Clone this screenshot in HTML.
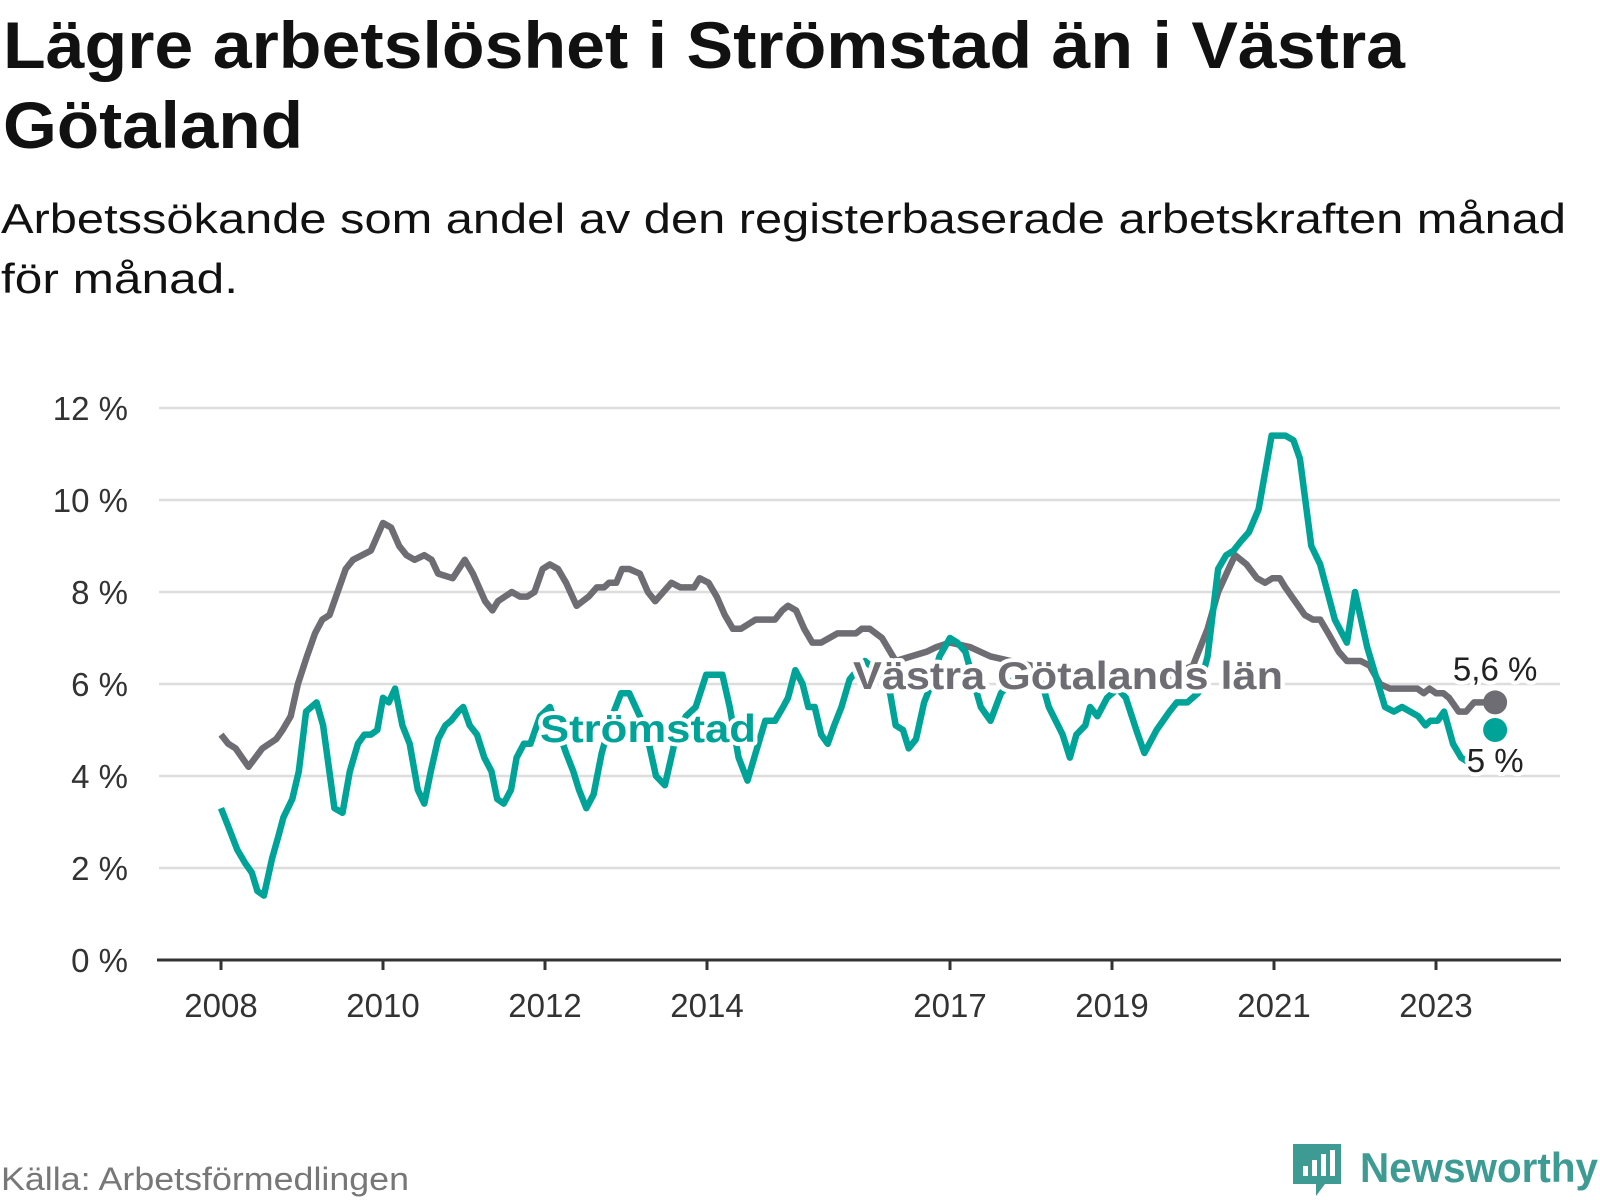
<!DOCTYPE html>
<html><head><meta charset="utf-8">
<style>
body{margin:0;background:#fff;width:1600px;height:1200px;overflow:hidden;font-family:"Liberation Sans","DejaVu Sans",sans-serif}
svg{position:absolute;left:0;top:0}
.h{paint-order:stroke;stroke:#fff;stroke-width:8px;stroke-linejoin:round}
</style></head><body>
<svg id="chart" width="1600" height="1200">
<text x="3" y="68" font-size="66" font-weight="bold" fill="#111" textLength="1402" lengthAdjust="spacingAndGlyphs">Lägre arbetslöshet i Strömstad än i Västra</text>
<text x="3" y="148" font-size="66" font-weight="bold" fill="#111" textLength="300" lengthAdjust="spacingAndGlyphs">Götaland</text>
<text x="1" y="233" font-size="42" fill="#111" textLength="1565" lengthAdjust="spacingAndGlyphs">Arbetssökande som andel av den registerbaserade arbetskraften månad</text>
<text x="1" y="293" font-size="42" fill="#111" textLength="237" lengthAdjust="spacingAndGlyphs">för månad.</text>
<g id="grid"></g><g id="lines"></g><g id="labels"></g>
<text x="1" y="1190" font-size="32" fill="#777" textLength="408" lengthAdjust="spacingAndGlyphs">Källa: Arbetsförmedlingen</text>
<g>
<path d="M1293 1144h48v40h-16l-9 12v-12h-23z" fill="#3d9b94"/>
<rect x="1303" y="1166" width="5" height="10" fill="#fff"/><rect x="1312" y="1160" width="5" height="16" fill="#fff"/><rect x="1321" y="1154" width="5" height="22" fill="#fff"/><rect x="1330" y="1150" width="5" height="26" fill="#fff"/>
<text x="1360" y="1182" font-size="42" font-weight="bold" fill="#3d9b94" textLength="238" lengthAdjust="spacingAndGlyphs">Newsworthy</text>
</g>
</svg>
<script>
const yTicks=[0,2,4,6,8,10,12];
const xTicks=[2008,2010,2012,2014,2017,2019,2021,2023];
const grayT=[0,.09,.18,.34,.51,.68,.76,.86,.95,1.06,1.16,1.25,1.34,1.44,1.54,1.63,1.85,2.0,2.1,2.2,2.29,2.39,2.51,2.6,2.68,2.86,3.01,3.11,3.26,3.35,3.42,3.59,3.69,3.78,3.87,3.97,4.06,4.16,4.26,4.39,4.54,4.64,4.73,4.79,4.88,4.95,5.04,5.17,5.27,5.36,5.46,5.56,5.67,5.84,5.91,6.02,6.12,6.22,6.32,6.42,6.6,6.84,6.93,7.0,7.1,7.2,7.3,7.41,7.51,7.61,7.84,7.91,8.01,8.16,8.33,8.52,8.71,8.83,9.0,9.25,9.5,9.75,10.0,10.25,10.5,10.75,11.0,11.25,11.5,11.75,12.0,12.18,12.31,12.44,12.52,12.66,12.79,12.89,12.98,13.07,13.14,13.22,13.38,13.48,13.57,13.67,13.8,13.9,14.07,14.18,14.31,14.43,14.77,14.85,14.92,15.0,15.09,15.16,15.28,15.37,15.47,15.73];
const grayV=[4.9,4.7,4.6,4.2,4.6,4.8,5.0,5.3,6.0,6.6,7.1,7.4,7.5,8.0,8.5,8.7,8.9,9.5,9.4,9.0,8.8,8.7,8.8,8.7,8.4,8.3,8.7,8.4,7.8,7.6,7.8,8.0,7.9,7.9,8.0,8.5,8.6,8.5,8.2,7.7,7.9,8.1,8.1,8.2,8.2,8.5,8.5,8.4,8.0,7.8,8.0,8.2,8.1,8.1,8.3,8.2,7.9,7.5,7.2,7.2,7.4,7.4,7.6,7.7,7.6,7.2,6.9,6.9,7.0,7.1,7.1,7.2,7.2,7.0,6.5,6.6,6.7,6.8,6.9,6.8,6.6,6.5,6.4,6.2,6.0,6.0,5.9,6.0,6.0,6.2,6.4,7.2,8.0,8.5,8.8,8.6,8.3,8.2,8.3,8.3,8.1,7.9,7.5,7.4,7.4,7.1,6.7,6.5,6.5,6.4,6.0,5.9,5.9,5.8,5.9,5.8,5.8,5.7,5.4,5.4,5.6,5.6];
const tealT=[0,.09,.2,.3,.38,.45,.53,.63,.71,.77,.88,.96,1.05,1.18,1.26,1.4,1.5,1.59,1.69,1.77,1.85,1.93,2.0,2.07,2.15,2.24,2.33,2.43,2.51,2.59,2.68,2.77,2.84,2.93,2.99,3.07,3.16,3.25,3.34,3.41,3.49,3.58,3.65,3.74,3.82,3.94,4.06,4.16,4.26,4.35,4.42,4.51,4.6,4.7,4.83,4.94,5.04,5.17,5.27,5.37,5.48,5.61,5.74,5.86,5.99,6.19,6.28,6.39,6.5,6.6,6.72,6.84,6.94,7.0,7.09,7.18,7.25,7.33,7.41,7.49,7.57,7.66,7.76,7.95,8.14,8.26,8.33,8.42,8.49,8.58,8.68,8.77,8.87,9.0,9.09,9.19,9.3,9.38,9.5,9.63,9.78,9.97,10.14,10.22,10.39,10.48,10.56,10.67,10.73,10.82,10.94,11.07,11.17,11.3,11.4,11.55,11.71,11.8,11.93,12.06,12.18,12.31,12.41,12.5,12.59,12.69,12.81,12.97,13.14,13.24,13.32,13.46,13.57,13.75,13.9,14.0,14.15,14.37,14.48,14.58,14.78,14.87,14.93,15.02,15.1,15.21,15.31,15.4];
const tealV=[3.3,2.9,2.4,2.1,1.9,1.5,1.4,2.2,2.7,3.1,3.5,4.1,5.4,5.6,5.1,3.3,3.2,4.1,4.7,4.9,4.9,5.0,5.7,5.6,5.9,5.1,4.7,3.7,3.4,4.1,4.8,5.1,5.2,5.4,5.5,5.1,4.9,4.4,4.1,3.5,3.4,3.7,4.4,4.7,4.7,5.3,5.5,5.0,4.5,4.1,3.7,3.3,3.6,4.5,5.3,5.8,5.8,5.3,4.8,4.0,3.8,4.8,5.3,5.5,6.2,6.2,5.5,4.4,3.9,4.5,5.2,5.2,5.5,5.7,6.3,6.0,5.5,5.5,4.9,4.7,5.1,5.5,6.1,6.5,6.2,5.8,5.1,5.0,4.6,4.8,5.6,6.0,6.6,7.0,6.9,6.7,6.0,5.5,5.2,5.8,6.1,6.3,6.0,5.5,4.9,4.4,4.9,5.1,5.5,5.3,5.7,5.9,5.7,5.0,4.5,5.0,5.4,5.6,5.6,5.8,6.6,8.5,8.8,8.9,9.1,9.3,9.8,11.4,11.4,11.3,10.9,9.0,8.6,7.4,6.9,8.0,6.8,5.5,5.4,5.5,5.3,5.1,5.2,5.2,5.4,4.7,4.4,4.3];
const lastT=15.73, grayLast=5.6, tealLast=5.0;
const NS='http://www.w3.org/2000/svg';
const X=t=>221+t*81, Y=v=>960-v*46, XY=yr=>X(yr-2008);
function mk(tag,attrs,parent,txt){const e=document.createElementNS(NS,tag);for(const k in attrs)e.setAttribute(k,attrs[k]);if(txt!=null)e.textContent=txt;document.getElementById(parent).appendChild(e);return e;}
yTicks.forEach(v=>{
 if(v>0){const g=mk('line',{x1:159,x2:1560,y1:Y(v),y2:Y(v),stroke:'#ddd','stroke-width':2.5},'grid');
 
 }
 const t=mk('text',{x:128,y:Y(v)+12,'font-size':33,fill:'#333','text-anchor':'end'},'grid',v+' %');
 
 
});
const ax=mk('line',{x1:157,x2:1561,y1:960,y2:960,stroke:'#333','stroke-width':3},'grid');


xTicks.forEach(yr=>{
 const tk=mk('line',{x1:XY(yr),x2:XY(yr),y1:960,y2:970,stroke:'#333','stroke-width':3},'grid');
 
 
 const t=mk('text',{x:XY(yr),y:1017,'font-size':33,fill:'#333','text-anchor':'middle'},'grid',yr);
 
 
});
function pts(T,V){return T.map((t,i)=>X(t).toFixed(1)+','+Y(V[i]).toFixed(1)).join(' ');}
const gl=mk('polyline',{points:pts(grayT,grayV),fill:'none',stroke:'#6e6d73','stroke-width':6.5,'stroke-linejoin':'round'},'lines');


const tl=mk('polyline',{points:pts(tealT,tealV),fill:'none',stroke:'#00a398','stroke-width':6.5,'stroke-linejoin':'round'},'lines');


const gd=mk('circle',{cx:X(lastT),cy:Y(grayLast),r:12,fill:'#6e6d73'},'lines');


const td=mk('circle',{cx:X(lastT),cy:Y(tealLast),r:12,fill:'#00a398'},'lines');


const l1=mk('text',{x:648,y:742,'font-size':39,'font-weight':'bold',fill:'#00a398','text-anchor':'middle',class:'h',textLength:216,lengthAdjust:'spacingAndGlyphs'},'labels','Strömstad');


const l2=mk('text',{x:1068,y:689,'font-size':39,'font-weight':'bold',fill:'#6e6d73','text-anchor':'middle',class:'h',textLength:430,lengthAdjust:'spacingAndGlyphs'},'labels','Västra Götalands län');


const v1=mk('text',{x:X(lastT),y:Y(grayLast)-22,'font-size':33,fill:'#222','text-anchor':'middle',class:'h'},'labels',String(grayLast).replace('.',',')+' %');


const v2=mk('text',{x:X(lastT),y:Y(tealLast)+42,'font-size':33,fill:'#222','text-anchor':'middle',class:'h'},'labels',String(tealLast).replace('.',',')+' %');


</script>
</body></html>
